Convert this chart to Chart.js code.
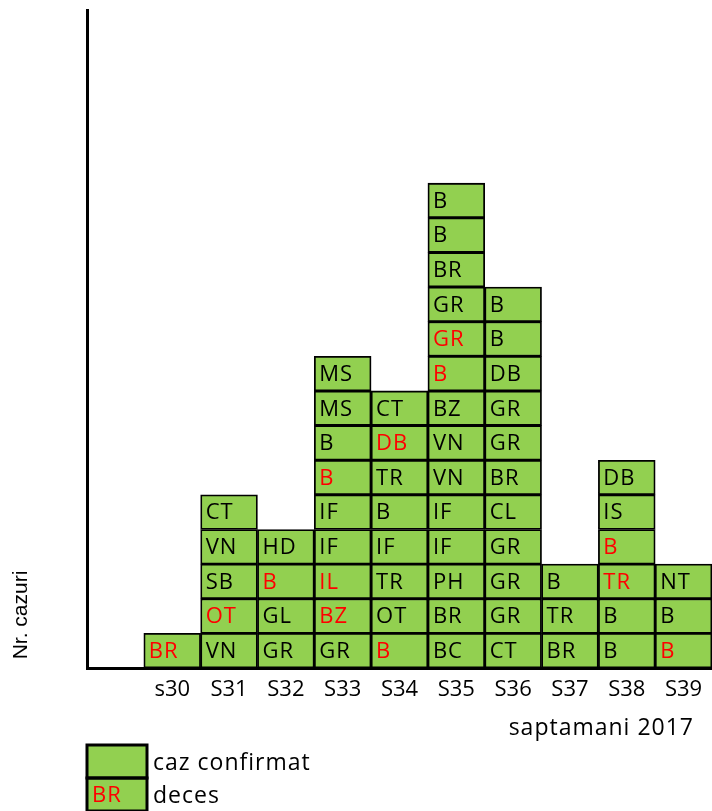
<!DOCTYPE html>
<html>
<head>
<meta charset="utf-8">
<script src="https://cdn.jsdelivr.net/npm/chart.js@4/dist/chart.umd.min.js"></script>
<style>
  html, body { margin: 0; padding: 0; background: #fff; }
  #wrap { width: 712px; height: 811px; position: relative; }
</style>
</head>
<body>
<div id="wrap"><canvas id="chart" width="712" height="811"></canvas></div>
<script>
// weeks on the x axis (first slot is left empty, as in the original)
const weeks = ['s30', 'S31', 'S32', 'S33', 'S34', 'S35', 'S36', 'S37', 'S38', 'S39'];

// county codes for each confirmed case, bottom to top
const s30 = ['BR'];
const s31 = ['VN', 'OT', 'SB', 'VN', 'CT'];
const s32 = ['GR', 'GL', 'B', 'HD'];
const s33 = ['GR', 'BZ', 'IL', 'IF', 'IF', 'B', 'B', 'MS', 'MS'];
const s34 = ['B', 'OT', 'TR', 'IF', 'B', 'TR', 'DB', 'CT'];
const s35 = ['BC', 'BR', 'PH', 'IF', 'IF', 'VN', 'VN', 'BZ', 'B', 'GR', 'GR', 'BR', 'B', 'B'];
const s36 = ['CT', 'GR', 'GR', 'GR', 'CL', 'BR', 'GR', 'GR', 'DB', 'B', 'B'];
const s37 = ['BR', 'TR', 'B'];
const s38 = ['B', 'B', 'TR', 'B', 'IS', 'DB'];
const s39 = ['B', 'B', 'NT'];
const cases = [s30, s31, s32, s33, s34, s35, s36, s37, s38, s39];

// which rows (from the bottom, 0-based) were deaths
const deathRows = [[0], [1], [2], [1, 2, 5], [0, 6], [8, 9], [], [], [2, 3], [0]];

const yMax = 19;

const GREEN = '#92D050';
const FAMILY = '"Open Sans", "Noto Sans", sans-serif';
const cellFont = '22px ' + FAMILY;
const titleFont = '23px ' + FAMILY;

const labels = [''].concat(weeks);
const maxRows = Math.max(...cases.map(c => c.length));

const datasets = [];
for (let r = 0; r < maxRows; r++) {
    datasets.push({
        data: [null].concat(cases.map(c => (c.length > r ? 1 : null))),
        backgroundColor: GREEN,
        borderColor: '#000',
        borderWidth: 1.8,
        borderSkipped: false,
        categoryPercentage: 1,
        barPercentage: 1
    });
}

// draws the county codes inside the cells, plus titles and legend
const cellText = {
    id: 'cellText',
    afterDatasetsDraw(chart) {
        const ctx = chart.ctx;
        ctx.save();
        ctx.font = cellFont;
        ctx.letterSpacing = '1px';
        ctx.textAlign = 'left';
        ctx.textBaseline = 'middle';
        chart.data.datasets.forEach((ds, r) => {
            const meta = chart.getDatasetMeta(r);
            meta.data.forEach((el, i) => {
                if (i === 0) return;
                const col = i - 1;
                const code = cases[col][r];
                if (!code) return;
                const dead = deathRows[col].includes(r);
                ctx.fillStyle = dead ? '#FF0000' : '#000';
                ctx.fillText(code, el.x - el.width / 2 + 5, (el.y + el.base) / 2 + 1);
            });
        });
        ctx.restore();
    },
    afterDraw(chart) {
        const ctx = chart.ctx;
        const area = chart.chartArea;
        ctx.save();

        // y axis title, sits low along the axis
        ctx.translate(21, 615);
        ctx.rotate(-Math.PI / 2);
        ctx.font = '21px "Liberation Sans", Arial, sans-serif';
        ctx.fillStyle = '#000';
        ctx.textAlign = 'center';
        ctx.textBaseline = 'middle';
        ctx.fillText('Nr. cazuri', 0, 0);
        ctx.setTransform(1, 0, 0, 1, 0, 0);

        // x axis title
        ctx.font = titleFont;
        ctx.letterSpacing = '1px';
        ctx.textAlign = 'right';
        ctx.fillText('saptamani 2017', 694, 728);

        // legend
        const lx = area.left, lw = 60;
        ctx.fillStyle = GREEN;
        ctx.fillRect(lx, 745, lw, 33);
        ctx.fillRect(lx, 778, lw, 33);
        ctx.strokeStyle = '#000';
        ctx.lineWidth = 3;
        ctx.strokeRect(lx, 745, lw, 33);
        ctx.strokeRect(lx, 778, lw, 33);
        ctx.font = titleFont;
        ctx.textAlign = 'left';
        ctx.fillStyle = '#000';
        ctx.fillText('caz confirmat', lx + 66, 763);
        ctx.fillText('deces', lx + 66, 796);
        ctx.font = cellFont;
        ctx.fillStyle = '#FF0000';
        ctx.fillText('BR', lx + 5, 796);
        ctx.restore();
    }
};

new Chart(document.getElementById('chart'), {
    type: 'bar',
    data: { labels: labels, datasets: datasets },
    options: {
        responsive: false,
        animation: false,
        layout: { padding: { top: 10, right: 0, left: 0, bottom: 0 } },
        plugins: {
            legend: { display: false },
            tooltip: { enabled: false }
        },
        scales: {
            x: {
                stacked: true,
                grid: { display: false, drawTicks: false },
                border: { display: true, color: '#000', width: 3 },
                ticks: {
                    color: '#000',
                    font: { family: FAMILY, size: 22 },
                    padding: 9,
                    maxRotation: 0,
                    autoSkip: false
                },
                afterFit(scale) { scale.height = 143; }
            },
            y: {
                stacked: true,
                min: 0,
                max: yMax,
                grid: { display: false, drawTicks: false },
                border: { display: true, color: '#000', width: 3 },
                ticks: { display: false },
                afterFit(scale) { scale.width = 87; }
            }
        }
    },
    plugins: [cellText]
});
</script>
</body>
</html>
